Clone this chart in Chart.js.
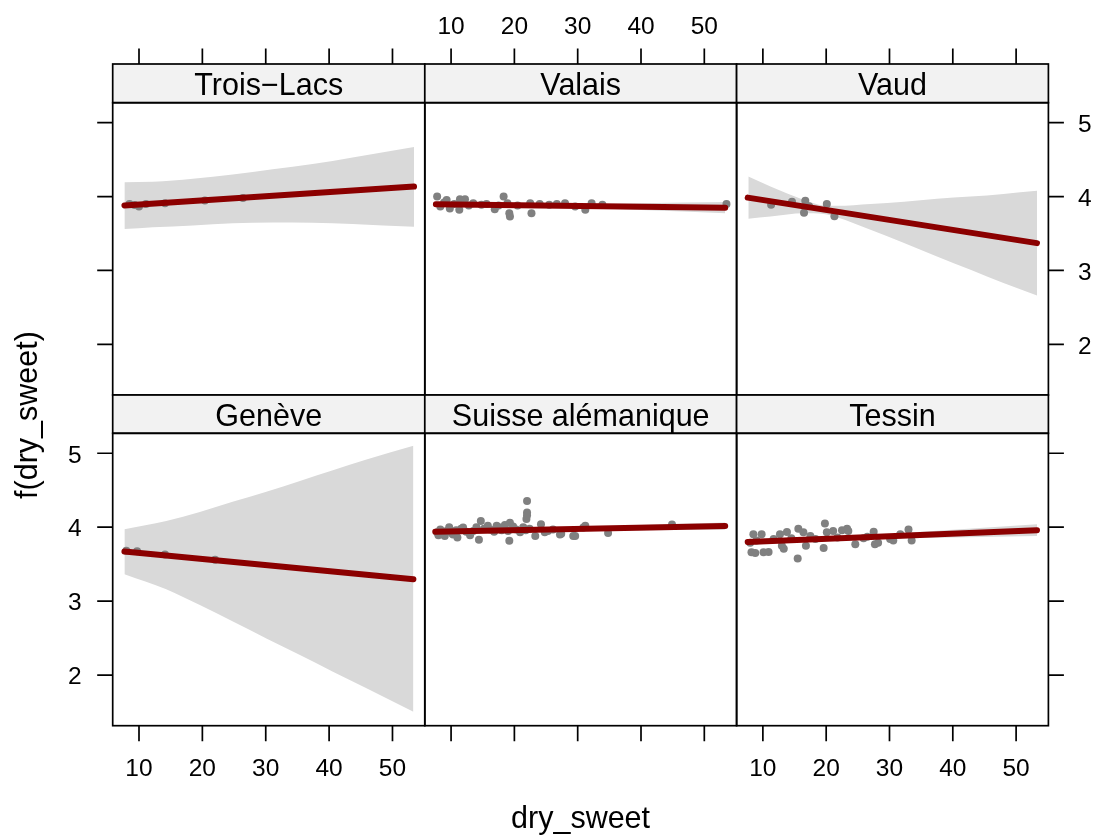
<!DOCTYPE html>
<html>
<head>
<meta charset="utf-8">
<script src="https://cdn.jsdelivr.net/npm/chart.js@4.4.1/dist/chart.umd.min.js"></script>
<style>
  body { margin: 0; background: #fff; }
  #wrap { position: relative; width: 1097px; height: 838px; }
  #wrap canvas { position: absolute; left: 0; top: 0; }
</style>
</head>
<body>
<div id="wrap"></div>
<script>
// Données
const panelNames = ['Trois\u2212Lacs', 'Valais', 'Vaud', 'Genève', 'Suisse alémanique', 'Tessin'];
const xTicks = [10, 20, 30, 40, 50];
const yTicks = [2, 3, 4, 5];

const troisLacsPoints = [[8.5,3.90],[9.3,3.885],[10.0,3.865],[11.1,3.90],[14.1,3.91],[20.4,3.946],[26.4,3.98]];
const troisLacsFit = [[7.7,3.88],[53.4,4.135]];
const troisLacsBandX = [7.7, 12.2, 18.5, 24.8, 31.1, 37.4, 43.7, 53.4];
const troisLacsUpper = [4.195, 4.20, 4.24, 4.30, 4.37, 4.44, 4.53, 4.67];
const troisLacsLower = [3.56, 3.585, 3.61, 3.64, 3.65, 3.645, 3.63, 3.59];

const valaisPoints = [[7.8,4.0],[8.3,3.865],[8.9,3.92],[9.3,3.955],[9.8,3.84],[10.5,3.90],[11.3,3.82],[11.4,3.965],
  [12.2,3.965],[12.8,3.88],[13.5,3.91],[14.8,3.89],[15.6,3.90],[16.9,3.83],[17.5,3.88],[18.3,4.0],[18.9,3.91],
  [19.2,3.775],[19.3,3.73],[20.5,3.88],[22.5,3.91],[22.7,3.775],[24.0,3.90],[25.5,3.89],[26.7,3.90],[28.0,3.91],
  [29.6,3.865],[31.2,3.82],[32.2,3.91],[33.9,3.89],[53.5,3.90]];
const valaisFit = [[7.6,3.897],[53.3,3.85]];
const valaisBandX = [7.6, 20, 30, 40, 53.3];
const valaisUpper = [3.93, 3.905, 3.90, 3.91, 3.925];
const valaisLower = [3.864, 3.863, 3.848, 3.818, 3.775];

const vaudPoints = [[11.3,3.89],[14.6,3.93],[16.7,3.945],[16.5,3.78],[17.3,3.87],[20.1,3.90],[21.3,3.735]];
const vaudFit = [[7.6,3.986],[53.3,3.37]];
const vaudBandX = [7.7, 11.2, 16.5, 19.6, 21.7, 27.0, 32.3, 37.5, 42.8, 48.0, 53.3];
const vaudUpper = [4.27, 4.135, 3.955, 3.88, 3.874, 3.90, 3.93, 3.97, 4.0, 4.036, 4.077];
const vaudLower = [3.70, 3.73, 3.775, 3.765, 3.72, 3.55, 3.37, 3.19, 3.01, 2.83, 2.66];

const genevePoints = [[8.0,3.68],[9.7,3.675],[14.1,3.63],[22.0,3.56]];
const geneveFit = [[7.7,3.671],[53.3,3.297]];
const geneveBandX = [7.7, 14.3, 19.6, 24.9, 30.1, 35.4, 40.6, 45.9, 53.3];
const geneveUpper = [3.973, 4.085, 4.207, 4.347, 4.48, 4.626, 4.77, 4.915, 5.10];
const geneveLower = [3.365, 3.162, 2.946, 2.72, 2.496, 2.27, 2.045, 1.82, 1.504];

const alemaniquePoints = [[7.8,3.93],[8.0,3.89],[8.3,3.97],[8.8,3.94],[9.0,3.88],[9.3,3.95],[9.7,4.0],[10.1,3.92],
  [10.3,3.90],[10.8,3.96],[11.0,3.86],[11.6,3.98],[11.9,3.995],[12.4,3.94],[13.0,3.89],[13.5,3.95],[14.0,4.0],
  [14.4,3.83],[14.7,4.085],[15.2,3.98],[15.8,4.02],[16.2,3.97],[16.8,3.94],[17.2,4.02],[17.6,4.0],[18.0,3.96],
  [18.5,4.03],[19.0,3.95],[19.2,3.815],[19.3,4.06],[19.8,4.01],[20.3,3.97],[20.9,3.93],[21.4,4.0],[21.8,3.96],
  [21.9,4.11],[22.0,4.16],[22.0,4.2],[22.0,4.355],[22.4,3.98],[23.3,3.88],[24.2,4.04],[24.8,3.93],[25.3,3.95],
  [26.1,3.97],[27.2,3.90],[27.4,3.91],[29.3,3.88],[29.6,3.88],[30.9,3.995],[31.2,4.018],[34.8,3.92],[44.9,4.035]];
const alemaniqueFit = [[7.5,3.94],[53.3,4.015]];
const alemaniqueBandX = [7.5, 20, 30, 40, 53.3];
const alemaniqueUpper = [3.965, 3.98, 4.0, 4.03, 4.065];
const alemaniqueLower = [3.915, 3.94, 3.955, 3.96, 3.965];

const tessinPoints = [[8.0,3.79],[8.5,3.905],[8.2,3.66],[8.8,3.65],[9.0,3.82],[9.8,3.905],[10.1,3.66],[10.9,3.665],
  [11.7,3.84],[12.7,3.905],[13.8,3.935],[13.0,3.75],[13.3,3.71],[14.5,3.85],[15.6,3.98],[15.5,3.577],[16.4,3.93],
  [16.8,3.75],[17.5,3.88],[18.3,3.84],[19.8,4.05],[19.6,3.72],[20.1,3.93],[21.1,3.95],[21.8,3.86],[22.5,3.96],
  [23.3,3.98],[23.5,3.95],[24.6,3.77],[25.9,3.85],[26.5,3.87],[27.5,3.94],[27.7,3.77],[28.2,3.79],[30.1,3.84],
  [30.6,3.82],[31.7,3.905],[33.0,3.97],[33.5,3.82]];
const tessinFit = [[7.6,3.80],[53.3,3.96]];
const tessinBandX = [7.6, 20, 30, 40, 53.3];
const tessinUpper = [3.84, 3.87, 3.91, 3.965, 4.04];
const tessinLower = [3.76, 3.82, 3.845, 3.86, 3.88];

// Mise en page (pixels)
const W = 1097, H = 838;
const colLeft = [112.7, 424.8, 736.6];
const colRight = [424.8, 736.6, 1048.4];
const stripTop = [64, 395];
const plotTop = [102.7, 433.3];
const plotBottom = [395, 725.7];
const FONT = '"Liberation Sans", Arial, Helvetica, sans-serif';

const toXY = pts => pts.map(p => ({ x: p[0], y: p[1] }));
const zip = (xs, ys) => xs.map((x, i) => ({ x: x, y: ys[i] }));

const panels = [
  { row: 0, col: 0, points: troisLacsPoints, fit: troisLacsFit, bx: troisLacsBandX, up: troisLacsUpper, lo: troisLacsLower },
  { row: 0, col: 1, points: valaisPoints, fit: valaisFit, bx: valaisBandX, up: valaisUpper, lo: valaisLower },
  { row: 0, col: 2, points: vaudPoints, fit: vaudFit, bx: vaudBandX, up: vaudUpper, lo: vaudLower },
  { row: 1, col: 0, points: genevePoints, fit: geneveFit, bx: geneveBandX, up: geneveUpper, lo: geneveLower },
  { row: 1, col: 1, points: alemaniquePoints, fit: alemaniqueFit, bx: alemaniqueBandX, up: alemaniqueUpper, lo: alemaniqueLower },
  { row: 1, col: 2, points: tessinPoints, fit: tessinFit, bx: tessinBandX, up: tessinUpper, lo: tessinLower }
];

// Bandeau, cadre, graduations
const latticePlugin = {
  id: 'lattice',
  afterDraw(chart, args, o) {
    const { ctx, chartArea: a } = chart;
    const sx = chart.scales.x, sy = chart.scales.y;
    const sTop = stripTop[o.row];
    ctx.save();
    ctx.fillStyle = '#f2f2f2';
    ctx.fillRect(a.left, sTop, a.right - a.left, a.top - sTop);
    ctx.strokeStyle = '#000';
    ctx.lineWidth = 1.7;
    ctx.strokeRect(a.left, sTop, a.right - a.left, a.top - sTop);
    ctx.strokeRect(a.left, a.top, a.right - a.left, a.bottom - a.top);
    ctx.fillStyle = '#000';
    ctx.font = '30.5px ' + FONT;
    ctx.textAlign = 'center';
    ctx.textBaseline = 'alphabetic';
    ctx.fillText(o.label, (a.left + a.right) / 2, sTop + 30.7);

    ctx.font = '24.5px ' + FONT;
    ctx.beginPath();
    xTicks.forEach(v => {
      const px = sx.getPixelForValue(v);
      if (o.row === 0) {
        ctx.moveTo(px, sTop); ctx.lineTo(px, sTop - 15.5);
        if (o.col === 1) ctx.fillText(String(v), px, sTop - 29.7);
      } else {
        ctx.moveTo(px, a.bottom); ctx.lineTo(px, a.bottom + 15.5);
        if (o.col !== 1) ctx.fillText(String(v), px, a.bottom + 50.3);
      }
    });
    yTicks.forEach(v => {
      const py = sy.getPixelForValue(v);
      if (o.col === 0) {
        ctx.moveTo(a.left, py); ctx.lineTo(a.left - 15.5, py);
        if (o.row === 1) { ctx.textAlign = 'right'; ctx.fillText(String(v), a.left - 31, py + 9.3); }
      }
      if (o.col === 2) {
        ctx.moveTo(a.right, py); ctx.lineTo(a.right + 15.5, py);
        if (o.row === 0) { ctx.textAlign = 'left'; ctx.fillText(String(v), a.right + 29.6, py + 9.5); }
      }
    });
    ctx.stroke();

    if (o.titles) {
      ctx.font = '30.5px ' + FONT;
      ctx.textAlign = 'center';
      ctx.fillText('dry_sweet', (colLeft[0] + colRight[2]) / 2, 828);
      ctx.translate(36.5, 415);
      ctx.rotate(-Math.PI / 2);
      ctx.fillText('f(dry_sweet)', 0, 0);
    }
    ctx.restore();
  }
};

const wrap = document.getElementById('wrap');
panels.forEach((p, i) => {
  const canvas = document.createElement('canvas');
  canvas.width = W; canvas.height = H;
  canvas.style.width = W + 'px'; canvas.style.height = H + 'px';
  wrap.appendChild(canvas);

  new Chart(canvas.getContext('2d'), {
    type: 'scatter',
    data: {
      datasets: [
        { type: 'line', data: zip(p.bx, p.up), borderColor: 'transparent', borderWidth: 0,
          backgroundColor: '#d9d9d9', fill: '+1', pointRadius: 0, cubicInterpolationMode: 'monotone', order: 3 },
        { type: 'line', data: zip(p.bx, p.lo), borderColor: 'transparent', borderWidth: 0,
          fill: false, pointRadius: 0, cubicInterpolationMode: 'monotone', order: 2 },
        { type: 'scatter', data: toXY(p.points), backgroundColor: '#808080', borderWidth: 0,
          pointRadius: 4, order: 1 },
        { type: 'line', data: toXY(p.fit), borderColor: '#8b0000', borderWidth: 6,
          borderCapStyle: 'round', pointRadius: 0, fill: false, order: 0 }
      ]
    },
    options: {
      responsive: false,
      animation: false,
      devicePixelRatio: 1,
      events: [],
      layout: {
        padding: {
          left: colLeft[p.col],
          right: W - colRight[p.col],
          top: plotTop[p.row],
          bottom: H - plotBottom[p.row]
        }
      },
      scales: {
        x: { type: 'linear', min: 5.85, max: 55.1, display: false },
        y: { type: 'linear', min: 1.315, max: 5.27, display: false }
      },
      plugins: {
        legend: { display: false },
        tooltip: { enabled: false },
        lattice: { row: p.row, col: p.col, label: panelNames[i], titles: i === 0 }
      }
    },
    plugins: [latticePlugin]
  });
});
</script>
</body>
</html>
